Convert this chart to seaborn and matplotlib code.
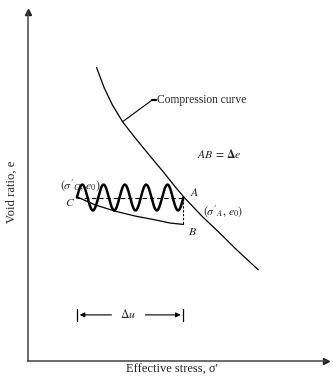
import numpy as np
import pandas as pd
import matplotlib
matplotlib.use("Agg")
import matplotlib.pyplot as plt
import seaborn as sns

# ---- data (schematic units) ----
comp_x = [2.31, 2.57, 2.84, 3.18, 3.61, 4.07, 4.54, 4.99, 5.25, 5.86, 6.44, 7.01, 7.73]
comp_y = [8.40, 7.81, 7.33, 6.85, 6.38, 5.90, 5.42, 4.94, 4.68, 4.13, 3.66, 3.18, 2.61]

cb_x = [1.65, 2.26, 2.93, 3.60, 4.27, 4.77, 5.22]
cb_y = [4.70, 4.47, 4.29, 4.15, 4.04, 3.95, 3.91]

point_A = (5.22, 4.68)
point_B = (5.22, 3.91)
point_C = (1.65, 4.68)

wave_start = 1.65
wave_end = 5.22
wave_center = 4.68
wave_amp = 0.37
wave_cycles = 5

du_y = 1.32
leader_x = [3.18, 4.17, 4.30]
leader_y = [6.85, 7.47, 7.47]

sns.set_style("white")
plt.rcParams["font.family"] = ["Liberation Serif", "DejaVu Serif"]
plt.rcParams["mathtext.fontset"] = "stix"

fig = plt.figure(figsize=(3.33, 3.83), dpi=100)
W, H = 333, 383
ax = fig.add_axes([27.7 / W, (H - 361) / H, (326 - 27.7) / W, (361 - 11.7) / H])
ax.set_xlim(0, 10)
ax.set_ylim(0, 10)
for s in ["top", "right"]:
    ax.spines[s].set_visible(False)
for s in ["left", "bottom"]:
    ax.spines[s].set_color("#444444")
    ax.spines[s].set_linewidth(1.1)
ax.set_xticks([])
ax.set_yticks([])
ax.set_facecolor("white")

# axis arrowheads
ax.plot(1, 0, ">", color="#222222", ms=5, transform=ax.transAxes, clip_on=False)
ax.plot(0, 1, "^", color="#222222", ms=5, transform=ax.transAxes, clip_on=False)

# compression curve
sns.lineplot(x=comp_x, y=comp_y, ax=ax, color="black", lw=0.9, sort=False)
# leader line
ax.plot(leader_x[:2], leader_y[:2], color="black", lw=0.8)
ax.plot(leader_x[1:], leader_y[1:], color="black", lw=1.6)
ax.text(4.32, 7.47, "Compression curve", fontsize=8.3, va="center", ha="left")

# C-B unloading curve
sns.lineplot(x=cb_x, y=cb_y, ax=ax, color="black", lw=0.9, sort=False)

# dashed lines
ax.plot([point_C[0], point_A[0]], [point_C[1], point_A[1]], color="black", lw=0.8, ls=(0, (4, 2.5)))
ax.plot([point_A[0], point_B[0]], [point_A[1], point_B[1]], color="black", lw=0.8, ls=(0, (2, 1.5)))

# wave (cyclic loading)
wx = np.linspace(wave_start, wave_end, 400)
wy = wave_center + wave_amp * np.sin(2 * np.pi * wave_cycles * (wx - wave_start) / (wave_end - wave_start))
ax.plot(wx, wy, color="black", lw=1.8)

# labels of points
ax.text(5.45, 4.81, "$A$", fontsize=8.5, va="center", ha="left")
ax.text(5.38, 3.70, "$B$", fontsize=8.5, va="center", ha="left")
ax.text(1.42, 4.52, "$C$", fontsize=8.5, va="center", ha="center")
ax.text(5.88, 4.29, r"$(\sigma'_A,\,e_0)$", fontsize=8.5, va="center", ha="left")
ax.text(1.08, 5.04, r"$(\sigma'_C,\,e_0)$", fontsize=8.5, va="center", ha="left")
ax.text(5.67, 5.90, r"$AB\,=\,\mathbf{\Delta} e$", fontsize=8.5, va="center", ha="left")

# delta u dimension
ax.annotate("", xy=(wave_start, du_y), xytext=(2.90, du_y),
            arrowprops=dict(arrowstyle="-|>", color="black", lw=0.8, mutation_scale=7))
ax.annotate("", xy=(wave_end, du_y), xytext=(3.85, du_y),
            arrowprops=dict(arrowstyle="-|>", color="black", lw=0.8, mutation_scale=7))
ax.plot([wave_start, wave_start], [du_y - 0.18, du_y + 0.18], color="black", lw=0.9)
ax.plot([wave_end, wave_end], [du_y - 0.18, du_y + 0.18], color="black", lw=0.9)
ax.text(3.36, du_y, r"$\Delta u$", fontsize=8.5, va="center", ha="center")

# axis labels
ax.text(-0.53, 4.84, "Void ratio, e", rotation=90, fontsize=9.2, va="center", ha="center", clip_on=False)
ax.text(4.84, -0.26, "Effective stress, σ'", fontsize=9.0, va="center", ha="center", clip_on=False)

fig.savefig("out.png", dpi=100, facecolor="white")
